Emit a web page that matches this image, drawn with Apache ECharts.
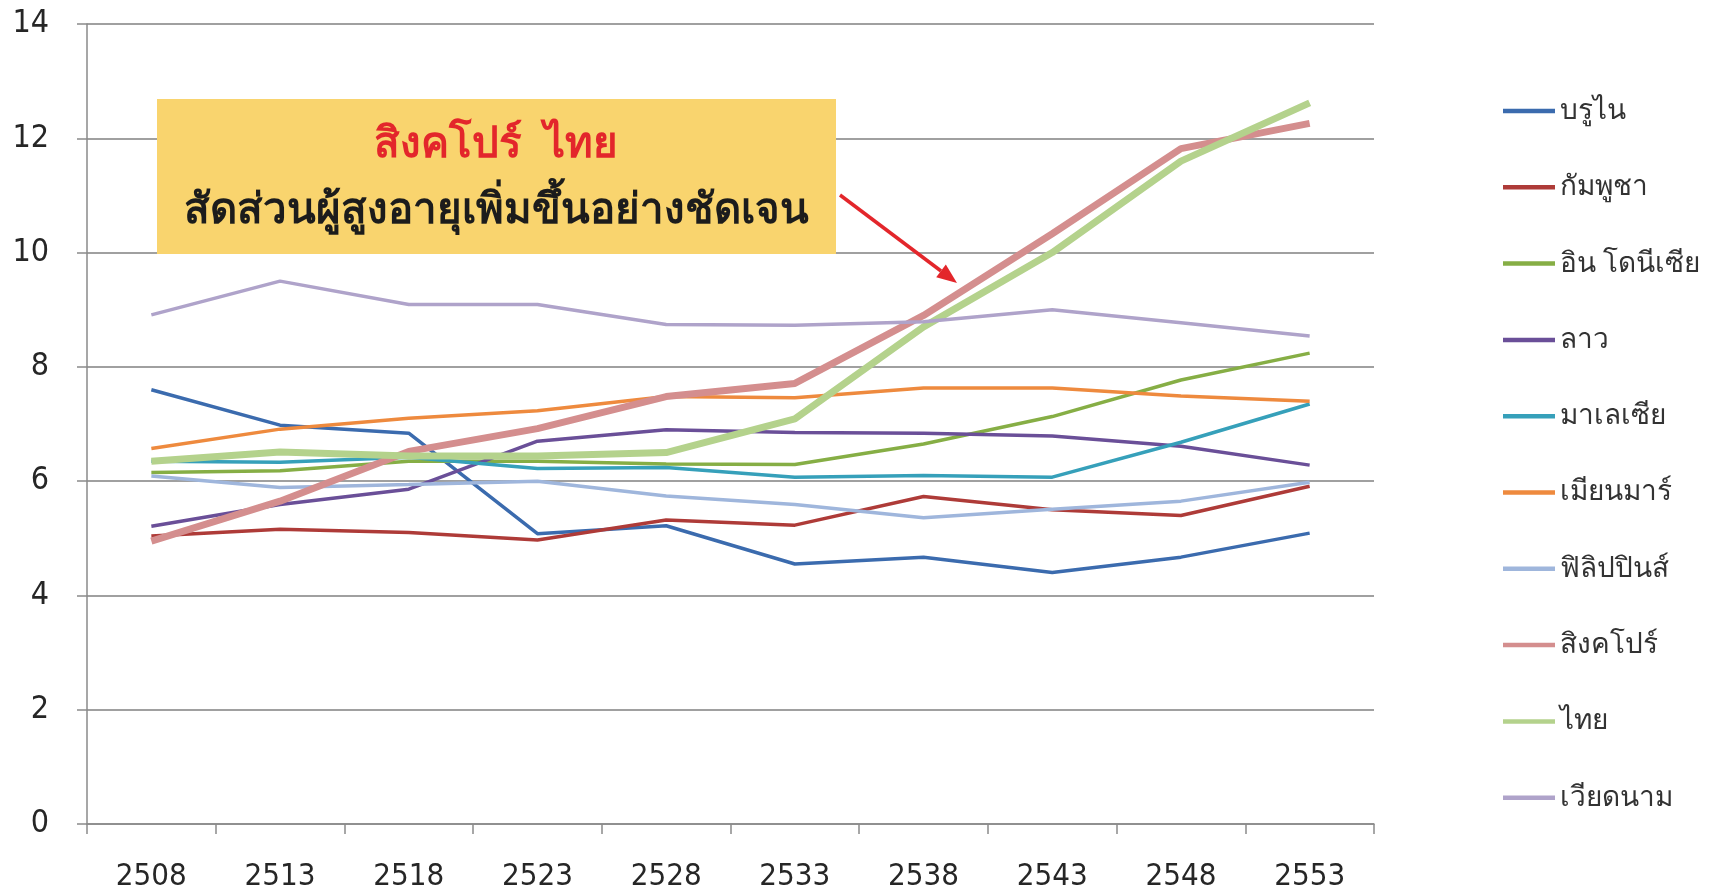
<!DOCTYPE html>
<html><head><meta charset="utf-8">
<script src="https://cdn.jsdelivr.net/npm/echarts@6/dist/echarts.min.js"></script>
<style>html,body{margin:0;padding:0;background:#fff}#c{width:1721px;height:892px}</style>
</head><body><div id="c"></div>
<script>
const years = ['2508','2513','2518','2523','2528','2533','2538','2543','2548','2553'];
const brunei      = [7.60, 6.98, 6.84, 5.08, 5.22, 4.55, 4.67, 4.40, 4.67, 5.09];
const cambodia    = [5.04, 5.16, 5.10, 4.97, 5.32, 5.23, 5.73, 5.50, 5.40, 5.91];
const indonesia   = [6.15, 6.18, 6.35, 6.35, 6.30, 6.29, 6.65, 7.13, 7.77, 8.24];
const laos        = [5.21, 5.59, 5.86, 6.70, 6.90, 6.85, 6.84, 6.79, 6.61, 6.28];
const malaysia    = [6.35, 6.33, 6.42, 6.22, 6.24, 6.07, 6.10, 6.07, 6.68, 7.35];
const myanmar     = [6.57, 6.91, 7.10, 7.23, 7.48, 7.46, 7.63, 7.63, 7.49, 7.40];
const philippines = [6.09, 5.89, 5.94, 6.00, 5.74, 5.59, 5.36, 5.51, 5.65, 5.98];
const singapore   = [4.95, 5.65, 6.52, 6.92, 7.48, 7.71, 8.90, 10.33, 11.82, 12.26];
const thailand    = [6.35, 6.51, 6.44, 6.44, 6.50, 7.09, 8.70, 10.00, 11.60, 12.62];
const vietnam     = [8.91, 9.50, 9.09, 9.09, 8.74, 8.73, 8.79, 9.00, 8.77, 8.54];
const names = ['บรูไน','กัมพูชา','อินโดนีเซีย','ลาว','มาเลเซีย','เมียนมาร์','ฟิลิปปินส์','สิงคโปร์','ไทย','เวียดนาม'];
const legendNames = ['บรูไน','กัมพูชา','อิน โดนีเซีย','ลาว','มาเลเซีย','เมียนมาร์','ฟิลิปปินส์','สิงคโปร์','ไทย','เวียดนาม'];
const yTicks = [0, 2, 4, 6, 8, 10, 12, 14];
const noteTitle = 'สิงคโปร์  ไทย';
const noteText = 'สัดส่วนผู้สูงอายุเพิ่มขึ้นอย่างชัดเจน';

const seriesData = [brunei, cambodia, indonesia, laos, malaysia, myanmar, philippines, singapore, thailand, vietnam];
const colors = ['#3B6BAE','#AE3B38','#86AE45','#6A4F98','#36A0BA','#EE8A3E','#9FB6DC','#D48E8E','#B4D28C','#AFA3CA'];
const widths = [3.5,3.5,3.5,3.5,3.5,3.5,3.5,7,7,3.5];

const chart = echarts.init(document.getElementById('c'));
const font = "'Liberation Sans Narrow','DejaVu Sans Condensed',sans-serif";
const thaiFont = "'Noto Sans','DejaVu Sans',sans-serif";

// arrow geometry
const ax1 = 840, ay1 = 195, ax2 = 957, ay2 = 283;
const dx = ax2 - ax1, dy = ay2 - ay1, len = Math.hypot(dx, dy), ux = dx/len, uy = dy/len;
const hl = 20, hw = 8;
const bx = ax2 - ux*hl, by = ay2 - uy*hl;

chart.setOption({
  animation: false,
  color: colors,
  grid: {left: 87, right: 347, top: 24, bottom: 67},
  xAxis: {
    type: 'category', data: years, boundaryGap: true,
    axisLine: {lineStyle: {color: '#8a8a8a', width: 1.5}},
    axisTick: {show: true, length: 10, interval: 0, lineStyle: {color: '#8a8a8a', width: 1.5}},
    axisLabel: {fontFamily: font, fontSize: 31, color: '#262626', margin: 37}
  },
  yAxis: {
    type: 'value', min: 0, max: 14, interval: 2,
    axisLine: {show: true, lineStyle: {color: '#8a8a8a', width: 1.5}},
    axisTick: {show: true, length: 10, lineStyle: {color: '#8a8a8a', width: 1.5}},
    splitLine: {lineStyle: {color: '#808080', width: 1.5}},
    axisLabel: {fontFamily: font, fontSize: 32, color: '#262626', margin: 38,
      formatter: v => yTicks.includes(v) ? String(v) : ''}
  },
  legend: {
    orient: 'vertical', left: 1498, top: 92, itemGap: 48.3,
    itemWidth: 52, itemHeight: 4.5, icon: 'rect',
    data: names.map((n, i) => ({name: n})),
    formatter: n => legendNames[names.indexOf(n)],
    textStyle: {fontFamily: thaiFont, fontSize: 28, color: '#333333', padding: [0,0,0,0]}
  },
  graphic: [
    {type: 'rect', shape: {x: 157, y: 99, width: 679, height: 155}, style: {fill: '#F9D46E'}, z: 1},
    {type: 'text', style: {x: 496, y: 145, text: noteTitle, fill: '#E3262B', font: "bold 42px 'Noto Sans',sans-serif", textAlign: 'center', textVerticalAlign: 'middle'}, z: 2},
    {type: 'text', style: {x: 496, y: 211, text: noteText, fill: '#1c1c1c', font: "bold 42px 'Noto Sans',sans-serif", textAlign: 'center', textVerticalAlign: 'middle'}, z: 2},
    {type: 'line', shape: {x1: ax1, y1: ay1, x2: bx, y2: by}, style: {stroke: '#E3262B', lineWidth: 3.5}, z: 20},
    {type: 'polygon', shape: {points: [[ax2, ay2], [bx - uy*hw, by + ux*hw], [bx + uy*hw, by - ux*hw]]}, style: {fill: '#E3262B'}, z: 20}
  ],
  series: seriesData.map((d, i) => ({
    name: names[i], type: 'line', data: d, showSymbol: false, symbol: 'none',
    lineStyle: {width: widths[i], color: colors[i]}, itemStyle: {color: colors[i]}, z: 3 + i
  }))
});
</script></body></html>
